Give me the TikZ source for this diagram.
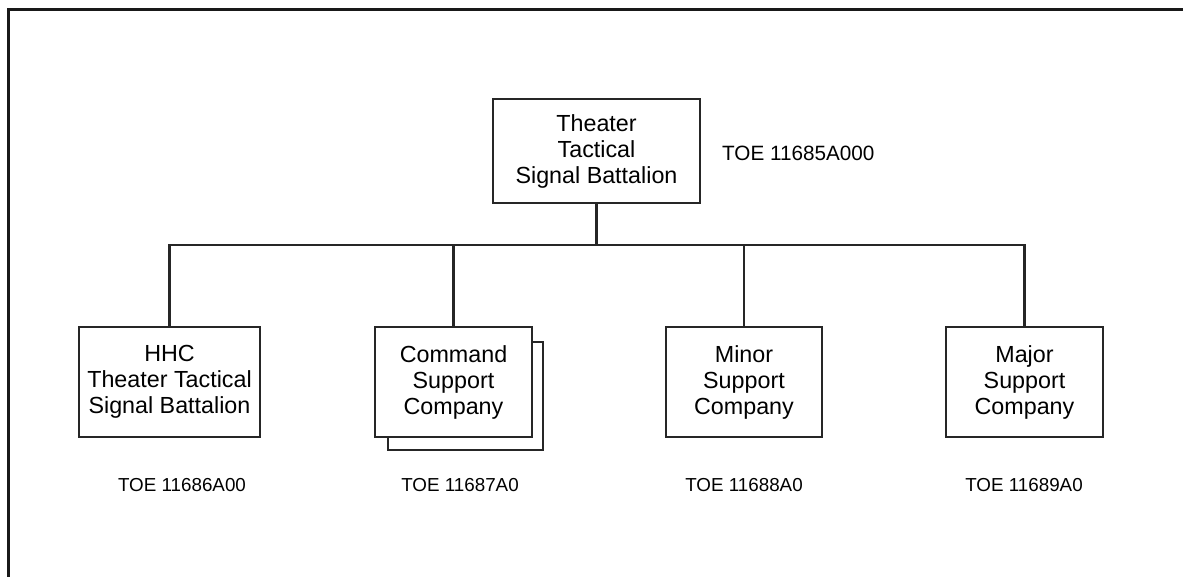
\documentclass[tikz,border=0pt]{standalone}
\usepackage{fontspec}
\setmainfont{Liberation Sans}
\begin{document}
\begin{tikzpicture}[x=1pt,y=-1pt,
  unitbox/.style={draw=black!85, line width=2.3pt, fill=white, inner sep=0pt, align=center,
    font=\fontsize{23.3}{26}\selectfont},
  link/.style={draw=black!85, line width=2.2pt},
  toe/.style={inner sep=0pt, font=\fontsize{18.8}{22}\selectfont}]
\useasboundingbox (0,0) rectangle (1183,576);
\draw[line width=3pt, black!90] (8,600) -- (8,9) -- (1200,9);

\node[unitbox, minimum width=207pt, minimum height=104pt] (top) at (596.5,151)
  {Theater\\Tactical\\Signal Battalion};
\node[toe, font=\fontsize{20.7}{24}\selectfont, anchor=west] (toetop) at (722,153) {TOE 11685A000};

\coordinate (bus) at (596.5,245);

\node[unitbox, minimum width=181pt, minimum height=110pt] (hhc) at (169.5,382)
  {HHC\\Theater Tactical\\Signal Battalion};
\node[unitbox, minimum width=155pt, minimum height=108pt] (cmdback) at (465.5,396) {};
\node[unitbox, minimum width=157pt, minimum height=110pt] (cmd) at (453.5,382)
  {Command\\Support\\Company};
\node[unitbox, minimum width=156pt, minimum height=110pt] (minor) at (744,382)
  {Minor\\Support\\Company};
\node[unitbox, minimum width=157pt, minimum height=110pt] (major) at (1024.5,382)
  {Major\\Support\\Company};

\draw[link] (top.south) -- (bus);
\draw[link] (hhc.north) |- (bus);
\draw[link] (major.north) |- (bus);
\draw[link] (cmd.north) |- (bus);
\draw[link] (minor.north) |- (bus);

\node[toe] (t1) at (182,485) {TOE 11686A00};
\node[toe] (t2) at (460,485) {TOE 11687A0};
\node[toe] (t3) at (744,485) {TOE 11688A0};
\node[toe] (t4) at (1024,485) {TOE 11689A0};
\end{tikzpicture}
\end{document}
